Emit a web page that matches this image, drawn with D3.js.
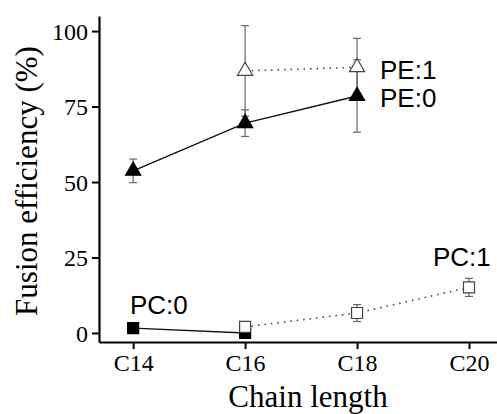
<!DOCTYPE html>
<html>
<head>
<meta charset="utf-8">
<script src="https://cdn.jsdelivr.net/npm/d3@7"></script>
<style>
  body { margin: 0; background: #fff; }
  .lab { font-family: "Liberation Sans", Arial, sans-serif; font-size: 26px; fill: #000; }
  .title { font-family: "Liberation Serif", "Times New Roman", serif; font-size: 31px; fill: #000; }
</style>
</head>
<body>
<div id="chart"></div>
<script>
var svgWidth = 497;
var svgHeight = 414;

// data
var tickLabels = ["C14", "C16", "C18", "C20"];
var tickValues = [14, 16, 18, 20];
var yTicks = [0, 25, 50, 75, 100];

var pe0X = [14, 16, 18];
var pe0Y = [53.7, 69.5, 78.5];
var pe0Err = [3.9, 4.4, 12];

var pe1X = [16, 18];
var pe1Y = [86.8, 88];
var pe1Err = [15, 9.6];

var pc0X = [14, 16];
var pc0Y = [1.6, 0];
var pc0Err = [0, 0];

var pc1X = [16, 18, 20];
var pc1Y = [2, 6.6, 15.1];
var pc1Err = [1.5, 2.8, 3];

var seriesNames = ["PE:0", "PE:1", "PC:0", "PC:1"];

var svg = d3.select("#chart")
  .append("svg")
  .attr("width", svgWidth)
  .attr("height", svgHeight);

var xScale = d3.scaleLinear().domain([13.39, 20.5]).range([99, 497]);
var yScale = d3.scaleLinear().domain([-3, 105]).range([342, 16]);

function toPts(xs, ys, es) {
  return xs.map(function(x, i) { return { x: x, y: ys[i], e: es[i] }; });
}

var series = [
  { name: seriesNames[0], pts: toPts(pe0X, pe0Y, pe0Err), shape: d3.symbolTriangle, size: 100, fill: "#000", dash: null },
  { name: seriesNames[1], pts: toPts(pe1X, pe1Y, pe1Err), shape: d3.symbolTriangle, size: 100, fill: "#fff", dash: "1.5,5" },
  { name: seriesNames[2], pts: toPts(pc0X, pc0Y, pc0Err), shape: d3.symbolSquare, size: 121, fill: "#000", dash: null },
  { name: seriesNames[3], pts: toPts(pc1X, pc1Y, pc1Err), shape: d3.symbolSquare, size: 121, fill: "#fff", dash: "1.5,5" }
];

// axes
var xAxis = svg.append("g")
  .attr("transform", "translate(0," + 342 + ")")
  .call(d3.axisBottom(xScale).tickValues(tickValues)
    .tickFormat(function(d, i) { return tickLabels[i]; })
    .tickSize(7).tickSizeOuter(0).tickPadding(5));

var yAxis = svg.append("g")
  .attr("transform", "translate(" + 99 + ",0)")
  .call(d3.axisLeft(yScale).tickValues(yTicks).tickSize(7).tickSizeOuter(0).tickPadding(4));

svg.selectAll(".domain").attr("stroke", "#000").attr("stroke-width", 2.2);
svg.selectAll(".tick line").attr("stroke", "#000").attr("stroke-width", 2);
svg.selectAll(".tick text")
  .style("font-family", "'Liberation Serif', 'Times New Roman', serif")
  .style("font-size", "24px")
  .attr("fill", "#000");
yAxis.selectAll(".tick text").attr("dy", "0.34em");

var line = d3.line()
  .x(function(d) { return xScale(d.x); })
  .y(function(d) { return yScale(d.y); });

// connecting lines
series.forEach(function(s) {
  svg.append("path")
    .datum(s.pts)
    .attr("d", line)
    .attr("fill", "none")
    .attr("stroke", s.dash ? "#444" : "#111")
    .attr("stroke-width", s.dash ? 1.6 : 1.4)
    .attr("stroke-dasharray", s.dash);
});

// error bars
series.forEach(function(s) {
  var g = svg.append("g").attr("stroke", "#666").attr("stroke-width", 1.2);
  s.pts.filter(function(d) { return d.e > 0; }).forEach(function(d) {
    var cx = xScale(d.x);
    g.append("line").attr("x1", cx).attr("x2", cx)
      .attr("y1", yScale(d.y - d.e)).attr("y2", yScale(d.y + d.e));
    [d.y - d.e, d.y + d.e].forEach(function(v) {
      g.append("line").attr("x1", cx - 4).attr("x2", cx + 4)
        .attr("y1", yScale(v)).attr("y2", yScale(v));
    });
  });
});

// markers
series.forEach(function(s) {
  svg.append("g").selectAll("path")
    .data(s.pts)
    .enter()
    .append("path")
    .attr("d", d3.symbol().type(s.shape).size(s.size))
    .attr("transform", function(d) { return "translate(" + xScale(d.x) + "," + yScale(d.y) + ")"; })
    .attr("fill", s.fill)
    .attr("stroke", s.fill === "#000" ? "#000" : "#444")
    .attr("stroke-width", 1.2);
});

// series labels
svg.append("text").attr("class", "lab").attr("x", 380).attr("y", 79).text(seriesNames[1]);
svg.append("text").attr("class", "lab").attr("x", 380).attr("y", 107).text(seriesNames[0]);
svg.append("text").attr("class", "lab").attr("x", 130).attr("y", 314).text(seriesNames[2]);
svg.append("text").attr("class", "lab").attr("x", 433).attr("y", 266).text(seriesNames[3]);

// axis titles
svg.append("text").attr("class", "title")
  .attr("x", 308).attr("y", 407)
  .attr("text-anchor", "middle")
  .text("Chain length");

svg.append("text").attr("class", "title")
  .attr("transform", "translate(37,181) rotate(-90)")
  .attr("text-anchor", "middle")
  .text("Fusion efficiency (%)");
</script>
</body>
</html>
